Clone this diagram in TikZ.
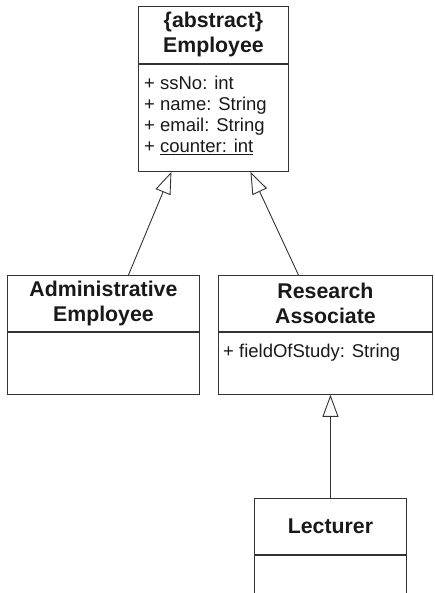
\documentclass[tikz,border=0pt]{standalone}
\usepackage{fontspec}
\setmainfont{Liberation Sans}
\usetikzlibrary{arrows.meta}

\tikzset{
  compart/.style={draw=black!80, line width=0.9pt, inner sep=0pt, anchor=north west},
  classname/.style={compart, align=center, text=black!90, font=\bfseries\fontsize{21.3}{25}\selectfont},
  attrtext/.style={anchor=north west, inner sep=0pt, align=left, text=black!90, font=\fontsize{18.5}{21}\selectfont},
  inherit/.style={draw=black!80, line width=0.9pt, -{Triangle[open, length=22pt, width=16pt, fill=white]}},
}

\begin{document}
\begin{tikzpicture}[x=1pt, y=-1pt]
    \useasboundingbox (0,0) rectangle (434,593);
    \clip (0,0) rectangle (434,593);

    % Employee (abstract)
    \node[classname, minimum width=150pt, minimum height=57pt] (empT) at (138,6) {\{abstract\}\\Employee};
    \node[compart, minimum width=150pt, minimum height=107pt] (empA) at (empT.south west) {};
    \node[attrtext] (empL) at ([xshift=6pt, yshift=-12pt]empA.north west)
      {+ ssNo: int\\+ name: String\\+ email: String\\+ \underline{counter: int}};

    % Administrative Employee
    \node[classname, minimum width=192pt, minimum height=56pt] (admT) at (7,275) {Administrative\\Employee};
    \node[compart, minimum width=192pt, minimum height=62pt] (admA) at (admT.south west) {};

    % Research Associate
    \node[classname, minimum width=214pt, minimum height=56pt] (resT) at (218,275) {Research\\Associate};
    \node[compart, minimum width=214pt, minimum height=62pt] (resA) at (resT.south west) {};
    \node[attrtext] (resL) at ([xshift=5pt, yshift=-12pt]resA.north west) {+ fieldOfStudy: String};

    % Lecturer (runs off the bottom)
    \node[classname, minimum width=152pt, minimum height=56pt] (lecT) at (254,498) {Lecturer};
    \node[compart, minimum width=152pt, minimum height=70pt] (lecA) at (lecT.south west) {};

    % generalisations
    \draw[inherit] ([xshift=25pt]admT.north) -- ([xshift=-42pt]empA.south);
    \draw[inherit] ([xshift=-27pt]resT.north) -- ([xshift=37pt]empA.south);
    \draw[inherit] (lecT.north) -- (lecT.north |- resA.south);
\end{tikzpicture}
\end{document}
